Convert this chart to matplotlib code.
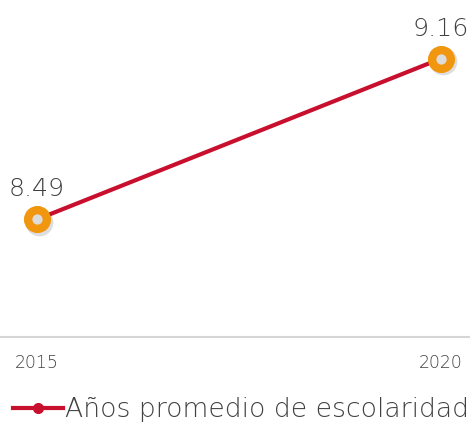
import matplotlib
matplotlib.use("Agg")
import matplotlib.pyplot as plt
import matplotlib.transforms as mtransforms
from matplotlib.lines import Line2D

years = [2015, 2020]
valores = [8.49, 9.16]
etiquetas = ["8.49", "9.16"]
serie = "Años promedio de escolaridad"

ROJO = "#c8102e"
NARANJA = "#f0960f"
GRIS = "#404040"

plt.rcParams["font.family"] = ["DejaVu Sans"]
plt.rcParams["font.weight"] = "light"

fig = plt.figure(figsize=(4.70, 4.24), dpi=100)
ax = fig.add_axes([0, 1 - 337 / 424, 1, 336 / 424])

ax.plot(years, valores, color=ROJO, lw=3, solid_capstyle="butt", zorder=2)
# sombra del marcador
sombra = ax.transData + mtransforms.ScaledTranslation(1.2 / 72, -1.8 / 72, fig.dpi_scale_trans)
ax.plot(years, valores, "o", ms=20, color="#000000", alpha=0.13, mec="none",
        transform=sombra, zorder=3)
ax.plot(years, valores, "o", ms=13.5, mfc="#dcdcdc", mec=NARANJA, mew=6, zorder=4)

for x, y, t in zip(years, valores, etiquetas):
    ax.annotate(t, (x, y), xytext=(0, 13), textcoords="offset points",
                ha="center", va="bottom", fontsize=18.2, color=GRIS)

ax.set_xlim(2015 - 37 / 80.8, 2020 + 29 / 80.8)
ax.set_ylim(8.0, 9.4)
ax.set_xticks(years)
ax.set_xticklabels([str(y) for y in years], fontsize=12.4, color=GRIS)
ax.tick_params(axis="x", length=0, pad=12)
ax.set_yticks([])
for s in ["top", "right", "left"]:
    ax.spines[s].set_visible(False)
ax.spines["bottom"].set_color("#d5d5d5")
ax.spines["bottom"].set_linewidth(1.5)

handle = Line2D([], [], color=ROJO, lw=3, marker="o", ms=7, mfc=ROJO, mec=ROJO)
fig.legend([handle], [serie], loc="center left", bbox_to_anchor=(0.011, 1 - 410 / 424),
           frameon=False, fontsize=19.2, handlelength=1.85, handletextpad=0.1,
           borderaxespad=0, borderpad=0.3, labelcolor=GRIS)

fig.savefig("out.png", dpi=100)
